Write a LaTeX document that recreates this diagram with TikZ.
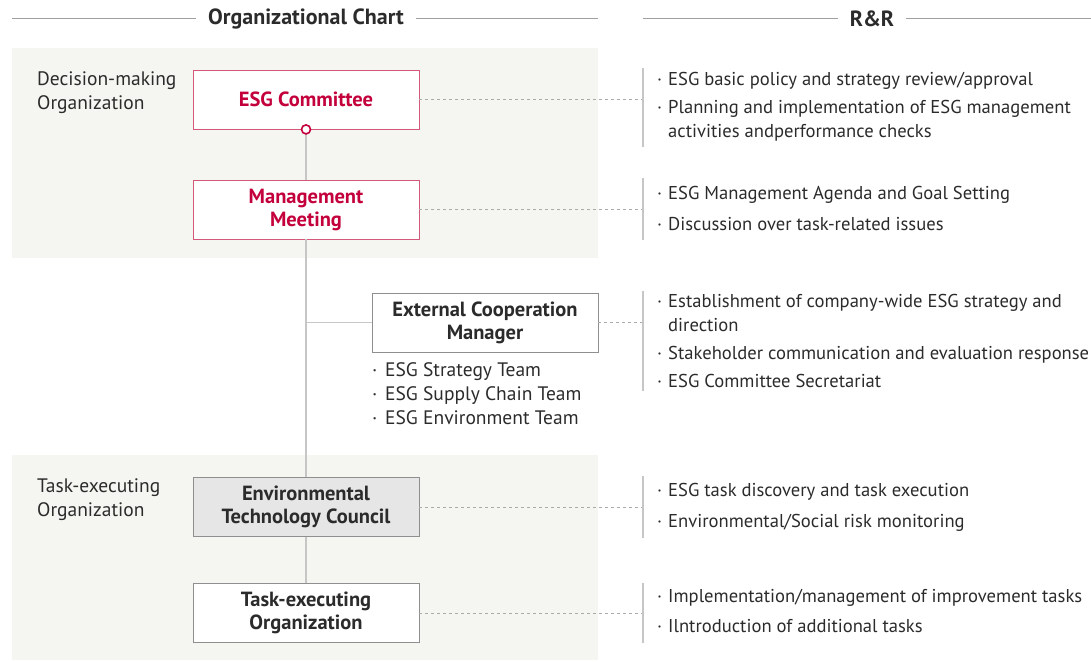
\documentclass[tikz,border=0pt]{standalone}
\usepackage{fontspec}
\setmainfont{PT Sans}
\definecolor{lgred}{HTML}{C4003C}
\definecolor{lgedge}{HTML}{D4587A}
\definecolor{boxedge}{HTML}{8F8F8F}
\definecolor{bandgray}{HTML}{F5F5F1}
\definecolor{linkgray}{HTML}{C6C6C6}
\definecolor{dashgray}{HTML}{ABABAB}
\definecolor{rulegray}{HTML}{A0A0A0}
\definecolor{textgray}{HTML}{2B2B2B}
\definecolor{councilgray}{HTML}{E6E6E6}
\newcommand\rrdot{\makebox[11pt][l]{·}}
\newcommand\rrgap{\hspace*{11pt}}
\newcommand\teamdot{\makebox[13pt][l]{·}}

\begin{document}
\begin{tikzpicture}[x=1pt,y=-1pt,
  band/.style={fill=bandgray},
  hdrline/.style={draw=rulegray,line width=1pt},
  hdrtext/.style={inner xsep=12pt,text=textgray,font=\fontsize{22}{24}\selectfont\bfseries},
  orgbox/.style={draw=boxedge,fill=white,line width=0.8pt,minimum width=226pt,minimum height=59pt,inner sep=0pt,align=center,text=textgray,font=\fontsize{20.5}{23}\selectfont\bfseries},
  redbox/.style={orgbox,draw=lgedge,text=lgred},
  graybox/.style={orgbox,fill=councilgray},
  link/.style={draw=linkgray,line width=1.5pt},
  leader/.style={draw=dashgray,dash pattern=on 3pt off 3pt,line width=0.8pt},
  bracket/.style={draw=linkgray,line width=1.2pt},
  orglabel/.style={anchor=base west,align=left,inner sep=0pt,text=textgray,font=\fontsize{19.5}{24}\selectfont},
  rrtext/.style={anchor=base west,align=left,inner sep=0pt,text=textgray,font=\fontsize{18.6}{24}\selectfont}]
\useasboundingbox (0,0) rectangle (1091,661);
\fill[band] (12,48) rectangle (598,258);
\fill[band] (12,455) rectangle (598,660);

\node[hdrtext] (orghdr) at (306,19) {Organizational Chart};
\node[hdrtext] (rrhdr) at (872,19) {R\&R};
\draw[hdrline] (12,19) -- (orghdr.west);
\draw[hdrline] (orghdr.east) -- (598,19);
\draw[hdrline] (643,19) -- (rrhdr.west);
\draw[hdrline] (rrhdr.east) -- (1091,19);

\node[orglabel] (decision) at (37,109) {Decision-making\\Organization};
\node[orglabel] (execlabel) at (37,516) {Task-executing\\Organization};

\node[redbox] (committee) at (306,99.5) {ESG Committee};
\node[redbox] (meeting) at (306,209.5) {Management\\Meeting};
\node[orgbox] (extmgr) at (485,322.5) {External Cooperation\\Manager};
\node[graybox] (council) at (306,507) {Environmental\\Technology Council};
\node[orgbox] (taskorg) at (306,613) {Task-executing\\Organization};

\draw[link] (committee.south) -- (meeting.north);
\draw[link] (meeting.south) -- (council.north);
\draw[link] (council.south) -- (taskorg.north);
\draw[link] (meeting.south |- extmgr.west) -- (extmgr.west);
\node[circle,draw=lgred,fill=white,line width=1.6pt,minimum size=9pt,inner sep=0pt] (joint) at (committee.south) {};

\node[orglabel] (teams) at (372,424) {\teamdot ESG Strategy Team\\\teamdot ESG Supply Chain Team\\\teamdot ESG Environment Team};

\coordinate (rr1) at (643,100);
\coordinate (rr2) at (643,209);
\coordinate (rr3) at (643,323);
\coordinate (rr4) at (643,507);
\coordinate (rr5) at (643,613);
\draw[leader] (committee.east) -- (rr1 |- committee.east);
\draw[leader] (meeting.east) -- (rr2 |- meeting.east);
\draw[leader] (extmgr.east) -- (rr3 |- extmgr.east);
\draw[leader] (council.east) -- (rr4 |- council.east);
\draw[leader] (taskorg.east) -- (rr5 |- taskorg.east);
\draw[bracket] (643,68) -- (643,147);
\draw[bracket] (643,178) -- (643,240);
\draw[bracket] (643,291) -- (643,391);
\draw[bracket] (643,476) -- (643,538);
\draw[bracket] (643,583) -- (643,643);

\node[rrtext] (rr1a) at (657,85.5) {\rrdot ESG basic policy and strategy review/approval};
\node[rrtext] (rr1b) at (657,137.5) {\rrdot Planning and implementation of ESG management\\\rrgap activities andperformance checks};
\node[rrtext] (rr2a) at (657,199.5) {\rrdot ESG Management Agenda and Goal Setting};
\node[rrtext] (rr2b) at (657,230.5) {\rrdot Discussion over task-related issues};
\node[rrtext] (rr3a) at (657,331.5) {\rrdot Establishment of company-wide ESG strategy and\\\rrgap direction};
\node[rrtext] (rr3b) at (657,359.5) {\rrdot Stakeholder communication and evaluation response};
\node[rrtext] (rr3c) at (657,387.5) {\rrdot ESG Committee Secretariat};
\node[rrtext] (rr4a) at (657,496.5) {\rrdot ESG task discovery and task execution};
\node[rrtext] (rr4b) at (657,527.5) {\rrdot Environmental/Social risk monitoring};
\node[rrtext] (rr5a) at (657,602.5) {\rrdot Implementation/management of improvement tasks};
\node[rrtext] (rr5b) at (657,632.5) {\rrdot Ilntroduction of additional tasks};
\end{tikzpicture}
\end{document}
